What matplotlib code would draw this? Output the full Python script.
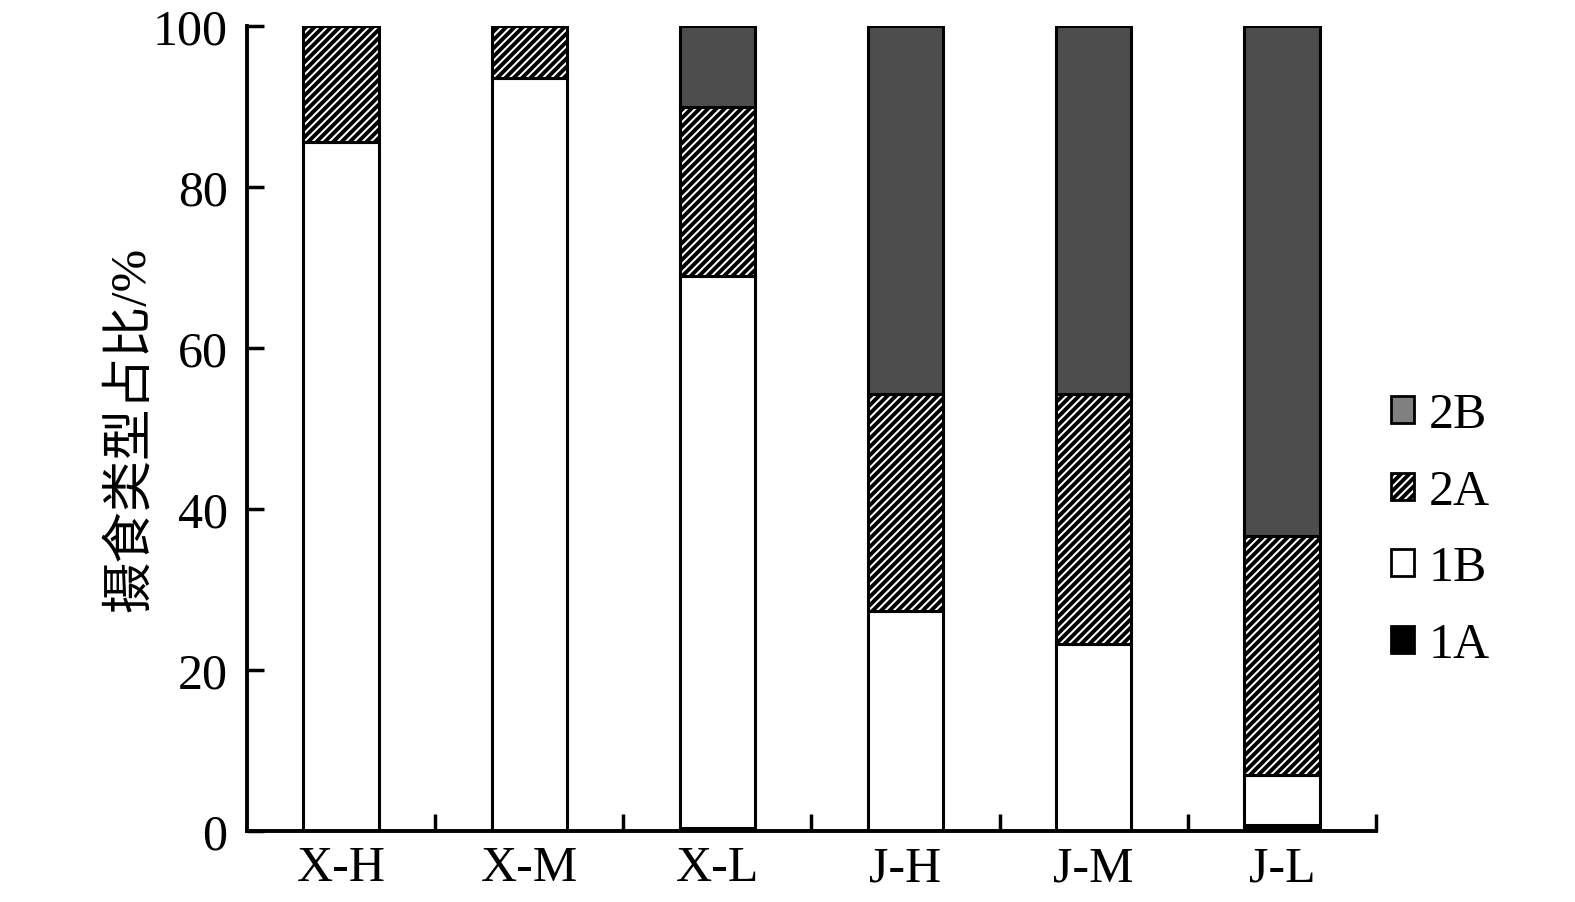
import matplotlib
matplotlib.use("Agg")
import matplotlib.pyplot as plt
import matplotlib.patches as mpatches
import numpy as np

plt.rcParams['font.family'] = ['Liberation Serif', 'Noto Sans CJK SC']
plt.rcParams['hatch.linewidth'] = 2.8
plt.rcParams['hatch.color'] = '#2a2a2a'

groups = ['X-H', 'X-M', 'X-L', 'J-H', 'J-M', 'J-L']
v_1A = [0.0, 0.0, 0.4, 0.0, 0.0, 0.8]
v_1B = [85.6, 93.5, 68.6, 27.3, 23.2, 6.2]
v_2A = [14.4, 6.5, 20.9, 27.0, 31.1, 29.7]
v_2B = [0.0, 0.0, 10.1, 45.7, 45.7, 63.3]

fig = plt.figure(figsize=(15.75, 9.03), dpi=100)
ax = fig.add_axes([247/1575, 71/903, (1376-247)/1575, 805/903])

x = np.arange(len(groups))
w = 0.4
b = np.zeros(len(groups))
ax.bar(x, v_1A, w, bottom=b, color='black', edgecolor='black', linewidth=2.2)
b += v_1A
ax.bar(x, v_1B, w, bottom=b, color='white', edgecolor='black', linewidth=2.2)
b += v_1B
ax.bar(x, v_2A, w, bottom=b, color='white', edgecolor='black', linewidth=2.2, hatch='////')
b += v_2A
ax.bar(x, v_2B, w, bottom=b, color='#4d4d4d', edgecolor='black', linewidth=2.2)

ax.set_xlim(-0.5, 5.5)
ax.set_ylim(0, 100)
ax.set_yticks([0, 20, 40, 60, 80, 100])
ax.set_xticks(x)
ax.set_xticklabels(groups)
ax.set_xticks(np.arange(0.5, 6, 1), minor=True)
ax.tick_params(axis='x', which='major', length=0, pad=10, labelsize=36)
ax.tick_params(axis='x', which='minor', direction='in', length=12, width=2.5)
ax.tick_params(axis='y', direction='in', length=12, width=2.5, labelsize=36, pad=14)
for s in ['top', 'right']:
    ax.spines[s].set_visible(False)
for s in ['left', 'bottom']:
    ax.spines[s].set_linewidth(2.8)

ax.set_ylabel('摄食类型占比/%', fontsize=37, labelpad=-2)

handles = [
    mpatches.Patch(facecolor='#808080', edgecolor='black', linewidth=2, label='2B'),
    mpatches.Patch(facecolor='white', edgecolor='black', linewidth=2, hatch='////', label='2A'),
    mpatches.Patch(facecolor='white', edgecolor='black', linewidth=2, label='1B'),
    mpatches.Patch(facecolor='black', edgecolor='black', linewidth=2, label='1A'),
]
fig.legend(handles=handles, loc='center left', bbox_to_anchor=(1346/1575, 1 - 531/903),
           frameon=False, fontsize=36, handlelength=0.45, handleheight=0.45,
           handletextpad=0.3, labelspacing=0.6)

fig.savefig('out.png', dpi=100)
